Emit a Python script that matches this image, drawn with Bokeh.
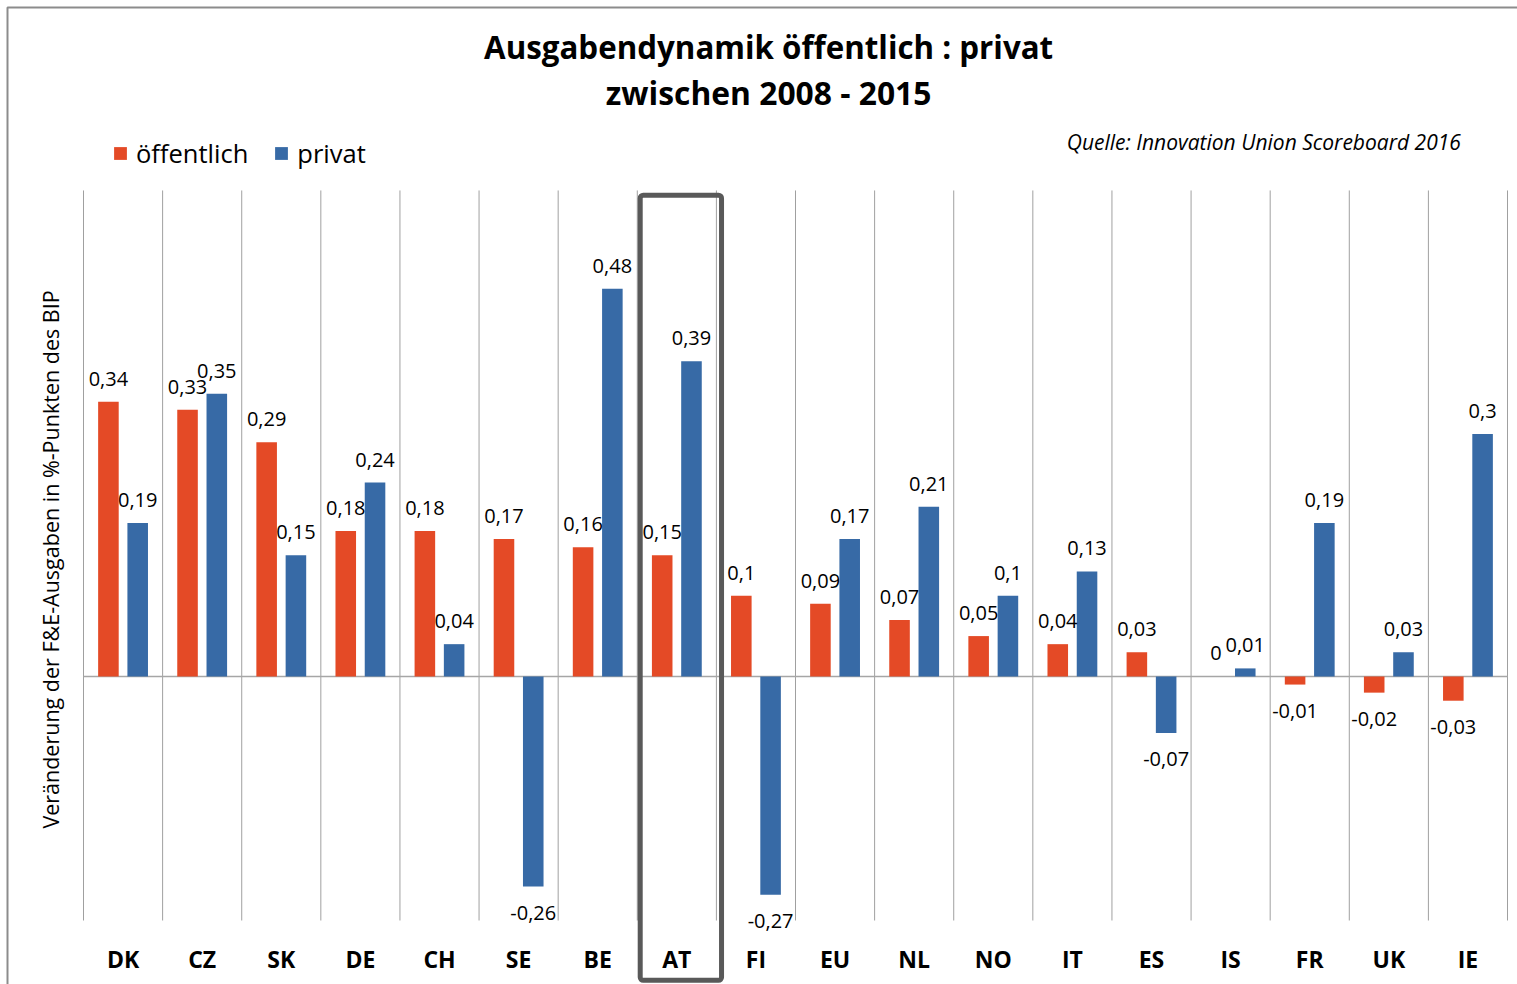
from bokeh.plotting import figure
from bokeh.models import (Range1d, ColumnDataSource, LabelSet, Label,
                          BoxAnnotation, FixedTicker, Legend, LegendItem)
from bokeh.core.properties import value
from bokeh.embed import file_html
from bokeh.resources import INLINE

countries = ["DK", "CZ", "SK", "DE", "CH", "SE", "BE", "AT", "FI",
             "EU", "NL", "NO", "IT", "ES", "IS", "FR", "UK", "IE"]
oeffentlich = [0.34, 0.33, 0.29, 0.18, 0.18, 0.17, 0.16, 0.15, 0.10,
               0.09, 0.07, 0.05, 0.04, 0.03, 0.00, -0.01, -0.02, -0.03]
privat = [0.19, 0.35, 0.15, 0.24, 0.04, -0.26, 0.48, 0.39, -0.27,
          0.17, 0.21, 0.10, 0.13, -0.07, 0.01, 0.19, 0.03, 0.30]
series_names = ["öffentlich", "privat"]
highlight = "AT"

RED = "#E44A26"
BLUE = "#376AA6"
GRID = "#A0A0A0"
FONT = "Open Sans"

W, H = 1517, 984
# plot-area limits (data units)
Y_LO, Y_HI = -0.302, 0.6015
n = len(countries)
pos = list(range(n))


def fmt(v):
    return f"{v:g}".replace(".", ",")


OFF = 0.185
BW = 0.26


def make_source(vals, off):
    return ColumnDataSource(dict(
        x=[i + off for i in pos],
        value=vals,
        label=[fmt(v) for v in vals],
        yoff=[23 if v >= 0 else -26 for v in vals],
    ))


p = figure(x_range=Range1d(-1.5492, 17.6263), y_range=Range1d(-0.3812, 0.8366),
           width=W, height=H, output_backend="svg", toolbar_location=None,
           title=None, min_border=0)
p.background_fill_color = "white"
p.border_fill_color = "white"
p.outline_line_color = None
p.xgrid.visible = False
p.ygrid.visible = False

# category separators and zero line
edges = [i - 0.5 for i in range(n + 1)]
p.segment(x0=edges, x1=edges, y0=[Y_LO] * len(edges), y1=[Y_HI] * len(edges),
          line_color=GRID, line_width=1)
p.segment(x0=[-0.5], x1=[n - 0.5], y0=[0], y1=[0], line_color="#A6A6A6", line_width=1.5)

src1 = make_source(oeffentlich, -OFF)
src2 = make_source(privat, OFF)
r1 = p.vbar(x="x", top="value", width=BW, source=src1, fill_color=RED, line_color=None)
r2 = p.vbar(x="x", top="value", width=BW, source=src2, fill_color=BLUE, line_color=None)

for src in (src1, src2):
    p.add_layout(LabelSet(x="x", y="value", text="label", y_offset="yoff", source=src,
                          text_align="center", text_baseline="middle",
                          text_font=value(FONT), text_font_size="20px",
                          text_color="black"))

# x axis (categories)
p.xaxis.fixed_location = Y_LO
p.xaxis.ticker = FixedTicker(ticks=pos)
p.xaxis.major_label_overrides = {i: c for i, c in zip(pos, countries)}
p.xaxis.axis_line_color = None
p.xaxis.major_tick_line_color = None
p.xaxis.minor_tick_line_color = None
p.xaxis.major_label_text_font = FONT
p.xaxis.major_label_text_font_style = "bold"
p.xaxis.major_label_text_font_size = "23px"
p.xaxis.major_label_text_color = "black"
p.xaxis.major_label_standoff = 16

# y axis (label only)
p.yaxis.fixed_location = -0.5
p.yaxis.bounds = (-0.312, Y_HI)
p.yaxis.ticker = FixedTicker(ticks=[])
p.yaxis.axis_line_color = None
p.yaxis.major_tick_line_color = None
p.yaxis.minor_tick_line_color = None
p.yaxis.axis_label = "Veränderung der F&E-Ausgaben in %-Punkten des BIP"
p.yaxis.axis_label_text_font = FONT
p.yaxis.axis_label_text_font_style = "normal"
p.yaxis.axis_label_text_font_size = "21.5px"
p.yaxis.axis_label_text_color = "black"
p.yaxis.axis_label_standoff = 19

# legend
legend = Legend(items=[LegendItem(label=series_names[0], renderers=[r1]),
                       LegendItem(label=series_names[1], renderers=[r2])],
                orientation="horizontal", location=(112, 814),
                border_line_color=None, background_fill_alpha=0,
                padding=0, margin=0, spacing=25, label_standoff=8,
                glyph_width=16, glyph_height=16,
                label_text_font=FONT, label_text_font_size="25.5px",
                label_text_color="black")
p.add_layout(legend)

# titles
TX = 8.16
p.add_layout(Label(x=TX, y=0.7785, text="Ausgabendynamik öffentlich : privat",
                   text_align="center", text_baseline="middle",
                   text_font=FONT, text_font_style="bold",
                   text_font_size="31.3px", text_color="black"))
p.add_layout(Label(x=TX, y=0.7228, text="zwischen 2008 - 2015",
                   text_align="center", text_baseline="middle",
                   text_font=FONT, text_font_style="bold",
                   text_font_size="31.8px", text_color="black"))
p.add_layout(Label(x=16.91, y=0.661, text="Quelle: Innovation Union Scoreboard 2016",
                   text_align="right", text_baseline="middle",
                   text_font=FONT, text_font_style="italic",
                   text_font_size="21px", text_color="black"))

# highlight box around AT
i = countries.index(highlight)
p.add_layout(BoxAnnotation(left=i - 0.463, right=i + 0.565, top=0.5957, bottom=-0.376,
                           fill_color=None, line_color="#595959", line_alpha=1,
                           line_width=5, border_radius=3))

# outer chart border (canvas units, y measured from top)
p.add_layout(BoxAnnotation(left=7, right=W + 100, top=7, bottom=H + 100,
                           left_units="canvas", right_units="canvas",
                           top_units="canvas", bottom_units="canvas",
                           fill_color=None, line_color="#8C8C8C", line_alpha=1,
                           line_width=2))

open("out.html", "w").write(file_html(p, INLINE))
